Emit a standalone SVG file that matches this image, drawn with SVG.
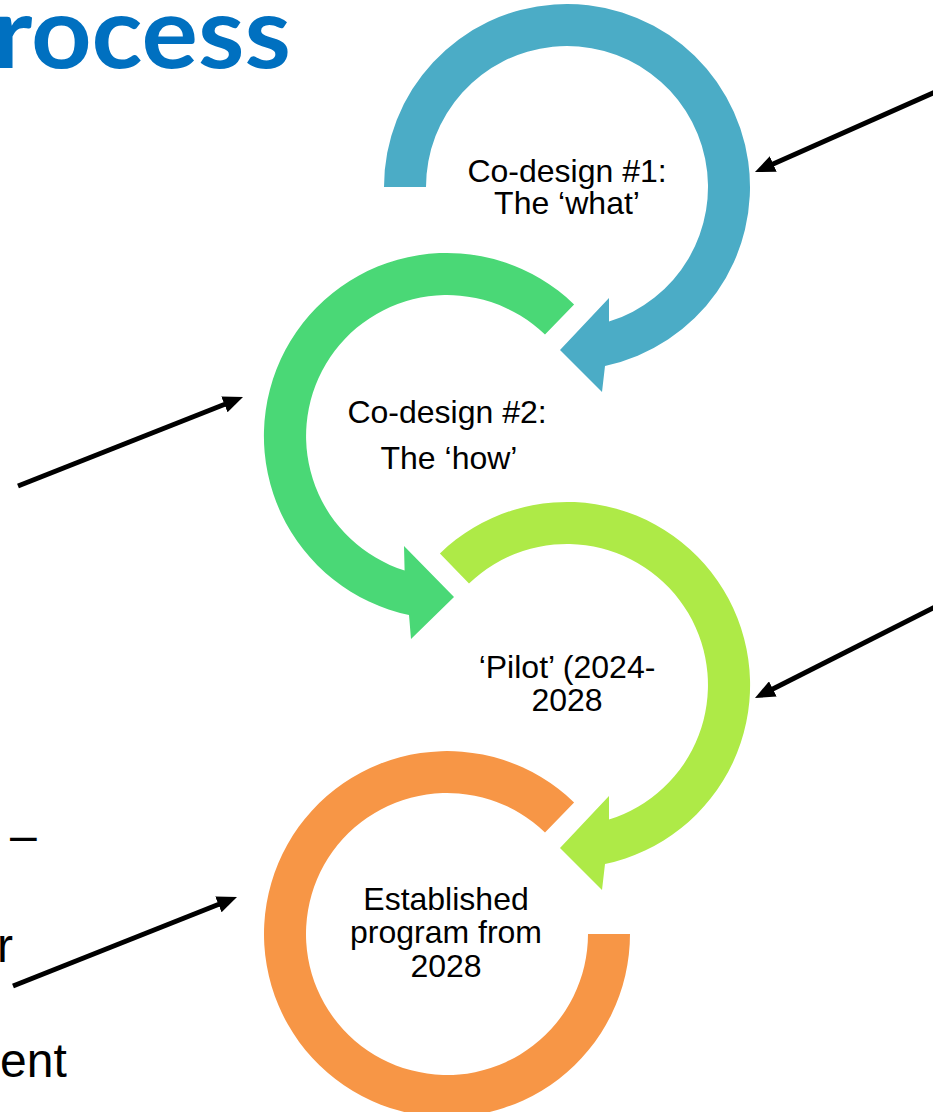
<svg xmlns="http://www.w3.org/2000/svg" width="933" height="1112" viewBox="0 0 933 1112">
  <style>
    .lbl { font-family: "Liberation Sans", Arial, sans-serif; font-size: 32px; fill: #000; text-anchor: middle; }
    .side { font-family: "Liberation Sans", Arial, sans-serif; font-size: 48px; fill: #000; }
    .title { font-family: Lato, "Open Sans", sans-serif; font-weight: bold; font-size: 99px; fill: #0070C0; }
    .conn { stroke: #000; stroke-width: 5; fill: none; marker-end: url(#ah); }
  </style>
  <defs>
    <marker id="ah" markerUnits="userSpaceOnUse" viewBox="0 0 20 17" markerWidth="20" markerHeight="17" refX="10" refY="8.5" orient="auto">
      <path d="M0,0 L20,8.5 L0,17 Z" fill="#000"/>
    </marker>
  </defs>
  <rect width="933" height="1112" fill="#fff"/>

  <text class="title" x="-7" y="68" textLength="298" lengthAdjust="spacingAndGlyphs">rocess</text>

  <text class="side" x="10" y="852">–</text>
  <text class="side" x="-3" y="962">r</text>
  <text class="side" x="0" y="1077">ent</text>

  <g id="node-codesign1">
    <path d="M384,187 A183,183 0 1 1 605,366 L602,392 L560,350 L609,298 L609,321.6 A141,141 0 1 0 426,187 Z" fill="#4BACC6"/>
    <text class="lbl" x="567" y="182">Co-design #1:</text>
    <text class="lbl" x="567" y="214">The ‘what’</text>
  </g>

  <g id="node-codesign2">
    <path d="M574.1,304.4 A183,183 0 1 0 409,615 L411,639 L454,597 L404,546 L404.6,570.5 A141,141 0 1 1 545,334.6 Z" fill="#4AD876"/>
    <text class="lbl" x="447" y="423">Co-design #2:</text>
    <text class="lbl" x="449" y="469">The ‘how’</text>
  </g>

  <g id="node-pilot">
    <path d="M439.9,553.4 A183,183 0 1 1 605,864 L602,890 L560,848 L609,796 L609,819.6 A141,141 0 1 0 469,583.6 Z" fill="#AEEA47"/>
    <text class="lbl" x="567" y="678">‘Pilot’ (2024-</text>
    <text class="lbl" x="567" y="711">2028</text>
  </g>

  <g id="node-established">
    <path d="M574.1,802.4 A183,183 0 1 0 630,934 L588,934 A141,141 0 1 1 545,832.6 Z" fill="#F79646"/>
    <text class="lbl" x="446" y="910">Established</text>
    <text class="lbl" x="446" y="943">program from</text>
    <text class="lbl" x="446" y="977">2028</text>
  </g>

  <g id="connectors">
    <line class="conn" x1="940" y1="90" x2="764.1" y2="168"/>
    <line class="conn" x1="18" y1="486" x2="233.7" y2="400.7"/>
    <line class="conn" x1="940" y1="604.5" x2="763.9" y2="693.5"/>
    <line class="conn" x1="13" y1="986" x2="227.7" y2="900.7"/>
  </g>
</svg>
